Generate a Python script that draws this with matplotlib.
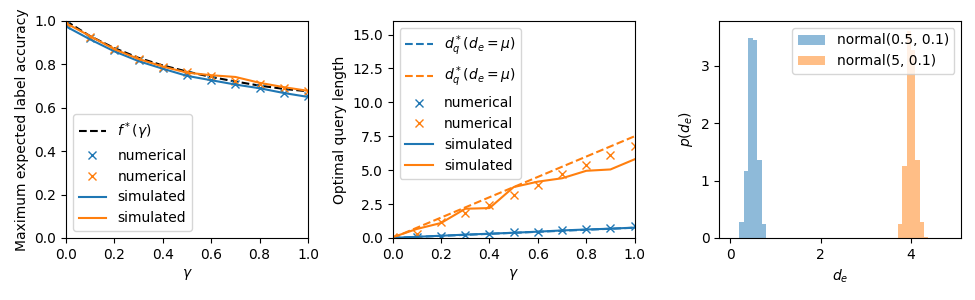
import numpy as np
import matplotlib
matplotlib.use("Agg")
import matplotlib.pyplot as plt

# gamma grid
gamma = [0.0, 0.1, 0.2, 0.3, 0.4, 0.5, 0.6, 0.7, 0.8, 0.9, 1.0]

# panel 1: accuracy
f_star = [1.0, 0.93, 0.875, 0.83, 0.795, 0.767, 0.742, 0.721, 0.702, 0.687, 0.676]
acc_num_a = [0.98, 0.92, 0.865, 0.82, 0.785, 0.752, 0.73, 0.71, 0.69, 0.67, 0.655]
acc_num_b = [0.99, 0.925, 0.87, 0.825, 0.79, 0.765, 0.745, 0.725, 0.71, 0.69, 0.675]
acc_sim_a = [0.975, 0.915, 0.86, 0.815, 0.78, 0.747, 0.727, 0.707, 0.69, 0.668, 0.65]
acc_sim_b = [0.99, 0.93, 0.87, 0.825, 0.79, 0.762, 0.75, 0.742, 0.715, 0.695, 0.678]

# panel 2: query length
dq_a = [0.0, 0.075, 0.15, 0.225, 0.3, 0.375, 0.45, 0.525, 0.6, 0.675, 0.75]
dq_b = [0.0, 0.75, 1.5, 2.25, 3.0, 3.75, 4.5, 5.25, 6.0, 6.75, 7.5]
len_num_a = [0.0, 0.08, 0.17, 0.25, 0.32, 0.4, 0.47, 0.58, 0.65, 0.7, 0.85]
len_num_b = [0.05, 0.3, 1.15, 1.84, 2.45, 3.2, 3.88, 4.7, 5.35, 6.1, 6.75]
len_sim_a = [0.0, 0.08, 0.16, 0.24, 0.31, 0.38, 0.46, 0.55, 0.62, 0.68, 0.76]
len_sim_b = [0.05, 0.66, 1.1, 2.15, 2.2, 3.75, 4.15, 4.4, 4.95, 5.05, 5.8]

# panel 3: histograms (density)
edges_a = [0.2, 0.3, 0.4, 0.5, 0.6, 0.7, 0.8]
dens_a = [0.28, 1.17, 3.48, 3.45, 1.36, 0.25]
edges_b = [3.71, 3.80, 3.90, 3.99, 4.09, 4.19, 4.28, 4.38]
dens_b = [0.25, 1.25, 3.6, 3.27, 1.35, 0.28, 0.02]

fig, axs = plt.subplots(1, 3, figsize=(9.75, 3), dpi=100)
fig.subplots_adjust(left=0.0677, right=0.986, bottom=0.207, top=0.93, wspace=0.35)

ax = axs[0]
ax.plot(gamma, f_star, 'k--', label=r'$f^*(\gamma)$')
ax.plot(gamma, acc_num_a, 'x', color='C0', label='numerical')
ax.plot(gamma, acc_num_b, 'x', color='C1', label='numerical')
ax.plot(gamma, acc_sim_a, '-', color='C0', label='simulated')
ax.plot(gamma, acc_sim_b, '-', color='C1', label='simulated')
ax.set_xlim(0, 1)
ax.set_ylim(0, 1)
ax.set_xlabel(r'$\gamma$')
ax.set_ylabel('Maximum expected label accuracy')
ax.legend(loc='lower left')

ax = axs[1]
ax.plot(gamma, dq_a, '--', color='C0', label=r'$d_q^*(d_e=\mu)$')
ax.plot(gamma, dq_b, '--', color='C1', label=r'$d_q^*(d_e=\mu)$')
ax.plot(gamma, len_num_a, 'x', color='C0', label='numerical')
ax.plot(gamma, len_num_b, 'x', color='C1', label='numerical')
ax.plot(gamma, len_sim_a, '-', color='C0', label='simulated')
ax.plot(gamma, len_sim_b, '-', color='C1', label='simulated')
ax.set_xlim(0, 1)
ax.set_ylim(0, 16)
ax.set_xlabel(r'$\gamma$')
ax.set_ylabel('Optimal query length')
ax.legend(loc='upper left')

ax = axs[2]
ca = [(edges_a[i] + edges_a[i + 1]) / 2 for i in range(len(dens_a))]
cb = [(edges_b[i] + edges_b[i + 1]) / 2 for i in range(len(dens_b))]
ax.hist(ca, bins=edges_a, weights=dens_a, alpha=0.5, label='normal(0.5, 0.1)')
ax.hist(cb, bins=edges_b, weights=dens_b, alpha=0.5, label='normal(5, 0.1)')
ax.set_xlim(-0.24, 5.11)
ax.set_xlabel(r'$d_e$')
ax.set_ylabel(r'$p(d_e)$')
ax.legend(loc='upper right')

fig.savefig('out.png')
